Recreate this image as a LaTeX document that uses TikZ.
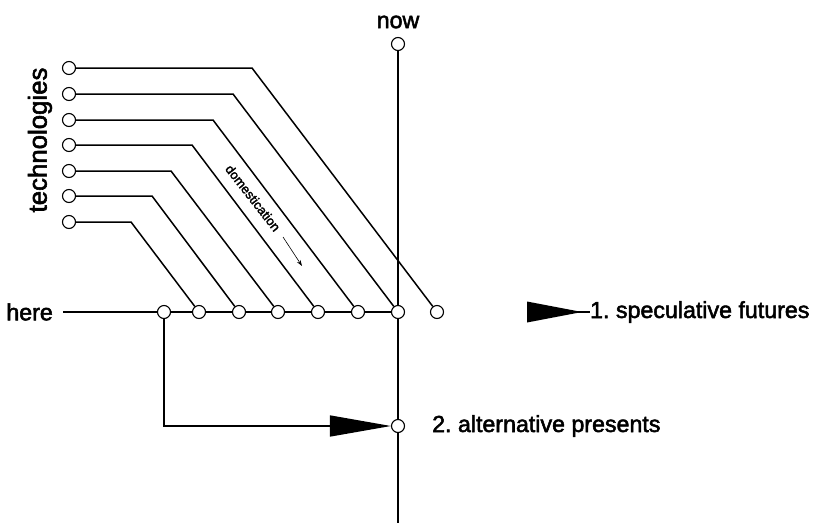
\documentclass[tikz,border=0pt]{standalone}
\usepackage{fontspec}
\setmainfont{Liberation Sans}
\newfontfamily\medfont{Liberation Sans}[FakeBold=2.2]
\frenchspacing
\usetikzlibrary{arrows.meta}
\begin{document}
\begin{tikzpicture}[x=1pt,y=-1pt,
  dot/.style={circle,draw,fill=white,line width=1.1pt,minimum size=13pt,inner sep=0pt},
  wire/.style={line width=1.5pt},
  lbl/.style={font=\medfont\fontsize{23.2}{25}\selectfont,inner sep=0pt}]
\useasboundingbox (0,0) rectangle (814,530);
% technology circles
\node[dot] (t1) at (69,68) {};
\node[dot] (t2) at (69,94) {};
\node[dot] (t3) at (69,120) {};
\node[dot] (t4) at (69,145) {};
\node[dot] (t5) at (69,171) {};
\node[dot] (t6) at (69,196) {};
\node[dot] (t7) at (69,222) {};
% here line circles
\node[dot] (h1) at (164,312) {};
\node[dot] (h2) at (199,312) {};
\node[dot] (h3) at (239,312) {};
\node[dot] (h4) at (278,312) {};
\node[dot] (h5) at (318,312) {};
\node[dot] (h6) at (358,312) {};
\node[dot] (h7) at (398,312) {};
\node[dot] (h8) at (437,312) {};
\node[dot] (n) at (398,44) {};
\node[dot] (a2) at (398,426) {};
% bends
\coordinate (b1) at (252,68);
\coordinate (b2) at (233,94);
\coordinate (b3) at (213,120);
\coordinate (b4) at (192,145);
\coordinate (b5) at (171,171);
\coordinate (b6) at (152,196);
\coordinate (b7) at (131,222);
\coordinate (hs) at (63,312);
\coordinate (vb) at (398,523);
\coordinate (s0) at (527,312);
\coordinate (d0) at (283,237);
\coordinate (d1) at (302,266);
% labels
\node[lbl] (now) at (398,22) {now};
\node[lbl,anchor=east] (here) at (53,312) {here};
\node[lbl,anchor=west] (alt) at (432,426) {2. alternative presents};
\node[lbl,anchor=west] (spec) at (590,312) {1. speculative futures};
\node[font=\medfont\fontsize{25.8}{27}\selectfont,inner sep=0pt,rotate=90] (tech) at (40,140) {technologies};
\node[font=\medfont\fontsize{13}{14}\selectfont,inner sep=0pt,rotate=-52] (dom) at (253,198) {domestication};
% connectors
\draw[wire] (t1) -- (b1) -- (h8);
\draw[wire] (t2) -- (b2) -- (h7);
\draw[wire] (t3) -- (b3) -- (h6);
\draw[wire] (t4) -- (b4) -- (h5);
\draw[wire] (t5) -- (b5) -- (h4);
\draw[wire] (t6) -- (b6) -- (h3);
\draw[wire] (t7) -- (b7) -- (h2);
\draw[wire] (hs) -- (h1) -- (h2) -- (h3) -- (h4) -- (h5) -- (h6) -- (h7);
\draw[wire] (n) -- (h7) -- (a2) -- (vb);
\draw[wire,-{Triangle[length=61pt,width=21pt]}] (h1) |- (a2);
\draw[wire] (s0) -- (spec.west);
\fill (s0) ++(0,-10.5) -- ++(55,10.5) -- ++(-55,10.5) -- cycle;
\draw[line width=0.6pt,-{Stealth[length=6pt,width=4pt]}] (d0) -- (d1);
\end{tikzpicture}
\end{document}
